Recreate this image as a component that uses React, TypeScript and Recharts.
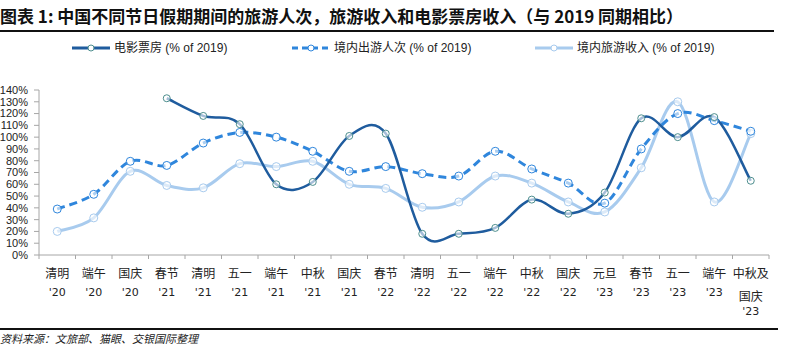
import React from "react"
import { LineChart, Line, XAxis, YAxis, Legend } from "recharts"

const holidays = ["清明", "端午", "国庆", "春节", "清明", "五一", "端午", "中秋", "国庆", "春节", "清明", "五一", "端午", "中秋", "国庆", "元旦", "春节", "五一", "端午", "中秋及|国庆"]
const years = ["'20", "'20", "'20", "'21", "'21", "'21", "'21", "'21", "'21", "'22", "'22", "'22", "'22", "'22", "'22", "'23", "'23", "'23", "'23", "'23"]

const boxOffice = [null, null, null, 133, 118, 111, 60, 62, 101, 103, 18, 18, 23, 47, 35, 53, 116, 100, 117, 63]
const outboundTrips = [39, 51.5, 79.5, 76, 95, 104, 100, 88, 71, 75, 69, 67, 88, 73, 61, 44, 90, 120, 114, 105]
const tourismRevenue = [20, 31.5, 71, 59, 57, 77.5, 75, 79.5, 60, 56.5, 40.5, 45, 67, 61, 45, 36.5, 74, 130, 45, 103]

const yTicks = [0, 10, 20, 30, 40, 50, 60, 70, 80, 90, 100, 110, 120, 130, 140]

const data = holidays.map((h, i) => ({
  name: h + years[i],
  movie: boxOffice[i],
  outbound: outboundTrips[i],
  revenue: tourismRevenue[i],
}))

const DARK = "#1f5c9e"
const MID = "#2f86dc"
const LIGHT = "#a8cbee"
const AXIS = "#a6a6a6"

const W = 788
const H = 353
const LEFT = 39
const RIGHT = 19
const TOP = 70
const BOTTOM = 98
const BAND = (W - LEFT - RIGHT) / holidays.length

// Excel-style smoothed line (Catmull-Rom bezier)
function excelCurve(context: any) {
  let pts: number[][] = []
  return {
    areaStart() {},
    areaEnd() {},
    lineStart() {
      pts = []
    },
    lineEnd() {
      if (!pts.length) return
      context.moveTo(pts[0][0], pts[0][1])
      for (let i = 0; i < pts.length - 1; i++) {
        const p0 = pts[i - 1] || pts[i]
        const p1 = pts[i]
        const p2 = pts[i + 1]
        const p3 = pts[i + 2] || p2
        context.bezierCurveTo(
          p1[0] + (p2[0] - p0[0]) / 6,
          p1[1] + (p2[1] - p0[1]) / 6,
          p2[0] - (p3[0] - p1[0]) / 6,
          p2[1] - (p3[1] - p1[1]) / 6,
          p2[0],
          p2[1]
        )
      }
    },
    point(x: number, y: number) {
      pts.push([+x, +y])
    },
  }
}

const makeDot = (stroke: string, r: number) => (props: any) => {
  const { cx, cy, value, index } = props
  if (value == null || cy == null || isNaN(cy)) return <g key={index} />
  return <circle key={index} cx={cx} cy={cy} r={r} fill="#fff" fillOpacity={0.6} stroke={stroke} strokeWidth={1} />
}

const XTick = (props: any) => {
  const { x, y, index } = props
  const lines = holidays[index].split("|")
  const last = index === holidays.length - 1
  return (
    <g>
      <line x1={x - BAND / 2} y1={y} x2={x - BAND / 2} y2={y + 4} stroke={AXIS} />
      {last && <line x1={x + BAND / 2} y1={y} x2={x + BAND / 2} y2={y + 4} stroke={AXIS} />}
      {lines.map((l, i) => (
        <text key={i} x={x} y={y + 23 + i * 23} textAnchor="middle" fontSize={12} fill="#222" fontFamily="'Noto Sans CJK SC', sans-serif">
          {l}
        </text>
      ))}
      <text x={x} y={last ? y + 60 : y + 41} textAnchor="middle" fontSize={11} fill="#222" fontFamily="'DejaVu Sans', sans-serif">
        {years[index]}
      </text>
    </g>
  )
}

const legendItems = [
  { label: "电影票房", color: DARK, dash: undefined, markStroke: "#4d8e8e", x: 72 },
  { label: "境内出游人次", color: MID, dash: "6 4", markStroke: MID, x: 292 },
  { label: "境内旅游收入", color: LIGHT, dash: undefined, markStroke: LIGHT, x: 535 },
]

const LegendContent = () => (
  <svg width={W} height={20} style={{ display: "block" }}>
    {legendItems.map((it) => (
      <g key={it.label}>
        <line x1={it.x} y1={10} x2={it.x + 38} y2={10} stroke={it.color} strokeWidth={3} strokeDasharray={it.dash} />
        <circle cx={it.x + 19} cy={10} r={3} fill="#fff" stroke={it.markStroke} strokeWidth={1} />
        <text x={it.x + 42} y={14} fontSize={12} fill="#222" fontFamily="'Noto Sans CJK SC', sans-serif">
          {it.label}
          <tspan fontFamily="'Liberation Sans Narrow', 'Liberation Sans', sans-serif" fontSize={12}> (% of 2019)</tspan>
        </text>
      </g>
    ))}
  </svg>
)

export default function App() {
  return (
    <div style={{ position: "absolute", left: 0, top: 0, width: W, height: H, background: "#fff" }}>
      <div
        style={{
          position: "absolute",
          left: 0,
          top: 6,
          fontFamily: "'Noto Sans CJK SC', sans-serif",
          fontWeight: 700,
          fontSize: 17,
          lineHeight: "20px",
          color: "#111",
          whiteSpace: "nowrap",
        }}
      >
        图表 1: 中国不同节日假期期间的旅游人次，旅游收入和电影票房收入（与 2019 同期相比）
      </div>
      <div style={{ position: "absolute", left: 0, top: 30, width: 774, height: 2, background: "#111" }} />
      <LineChart width={W} height={H} data={data} margin={{ top: TOP, right: RIGHT, left: 0, bottom: 0 }}>
        <Legend verticalAlign="top" content={<LegendContent />} wrapperStyle={{ top: 38, left: 0 }} />
        <XAxis
          dataKey="name"
          scale="band"
          height={BOTTOM}
          interval={0}
          axisLine={{ stroke: AXIS }}
          tickLine={false}
          tickSize={0}
          tickMargin={0}
          tick={<XTick />}
        />
        <YAxis
          width={LEFT}
          domain={[0, 140]}
          ticks={yTicks}
          interval={0}
          axisLine={{ stroke: AXIS }}
          tickLine={{ stroke: AXIS }}
          tickSize={5}
          tickMargin={6}
          tickFormatter={(v: number) => v + "%"}
          tick={{ fontSize: 11, fill: "#222", fontFamily: "'Liberation Sans', sans-serif" }}
        />
        <Line dataKey="revenue" type={excelCurve as any} stroke={LIGHT} strokeWidth={3} dot={makeDot(LIGHT, 4)} isAnimationActive={false} />
        <Line dataKey="outbound" type={excelCurve as any} stroke={MID} strokeWidth={3} strokeDasharray="8 5" dot={makeDot(MID, 4)} isAnimationActive={false} />
        <Line dataKey="movie" type={excelCurve as any} stroke={DARK} strokeWidth={2.5} dot={makeDot("#4d8e8e", 3.5)} isAnimationActive={false} />
      </LineChart>
      <div style={{ position: "absolute", left: 0, top: 328, width: 778, height: 2, background: "#111" }} />
      <div
        style={{
          position: "absolute",
          left: 0,
          top: 331,
          fontFamily: "'Noto Sans CJK SC', sans-serif",
          fontStyle: "italic",
          fontSize: 11,
          lineHeight: "14px",
          color: "#222",
          whiteSpace: "nowrap",
        }}
      >
        资料来源：文旅部、猫眼、交银国际整理
      </div>
    </div>
  )
}
